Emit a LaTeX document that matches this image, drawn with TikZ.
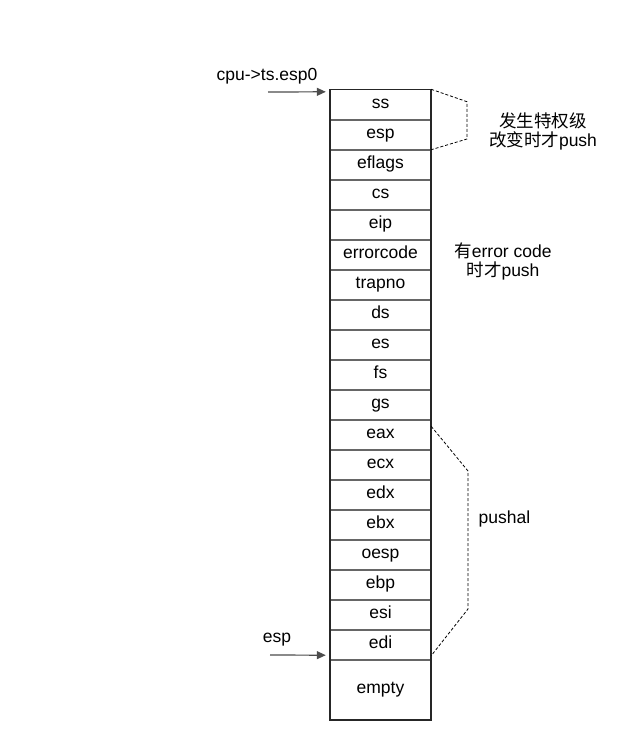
\documentclass[tikz,border=0pt]{standalone}
\usepackage{fontspec}
\setmainfont{Liberation Sans}
\newfontfamily\cjk{Noto Sans CJK SC}
\usetikzlibrary{arrows.meta}
\tikzset{
    cell/.style={minimum width=101pt, minimum height=30pt, inner sep=0pt, text height=12pt, text depth=4.5pt, font=\fontsize{17.5}{20}\selectfont},
    divider/.style={draw=black!60, line width=2pt},
    note/.style={align=center, font=\fontsize{17.5}{19}\selectfont},
    brace/.style={line width=0.8pt, dash pattern=on 3pt off 2pt},
    pointer/.style={->, black!70, line width=1.2pt},
}
\begin{document}
\begin{tikzpicture}[x=1pt, y=-1pt, >={Triangle[length=9pt,width=8pt]}]
    \useasboundingbox (0,0) rectangle (638,740);
\foreach \name [count=\i] in {ss,esp,eflags,cs,eip,errorcode,trapno,ds,es,fs,gs,eax,ecx,edx,ebx,oesp,ebp,esi,edi}
{
    \node[cell] (c\i) at (380.5, 74.5+30*\i) {\name};
}
\foreach \i in {1,...,19}
{
    \draw[divider] (c\i.south west)--(c\i.south east);
}
    \node[cell, minimum height=60pt] (empty) at (380.5, 689.5) {empty};
    \draw[line width=1.6pt, black!85] (c1.north west) rectangle (empty.south east);
    % incoming pointers
    \node[note] (esp0) at (267,76) {cpu->ts.esp0};
    \coordinate (esp0in) at (268,92);
    \draw[pointer] (esp0in)--([xshift=-4pt,yshift=-2.5pt]c1.north west);
    \node[note] (esp) at (277,640) {esp};
    \coordinate (espin) at (270,655);
    \draw[pointer] (espin)--([xshift=-4pt,yshift=4.5pt]c19.south west);
    % dashed brackets
    \draw[brace] (c1.north east)--(467,101.7)--(467,139)--(c2.south east);
    \node[note] (priv) at (543,131) {{\cjk 发生特权级}\\{\cjk 改变时才}push};
    \node[note] (err) at (503,261) {{\cjk 有}error code\\{\cjk 时才}push};
    \draw[brace] ([yshift=-7pt]c12.north east)--(468,471)--(468,609)--([yshift=4pt]c19.south east);
    \node[note] (pushal) at (504.5,519) {pushal};
    \end{tikzpicture}
\end{document}
